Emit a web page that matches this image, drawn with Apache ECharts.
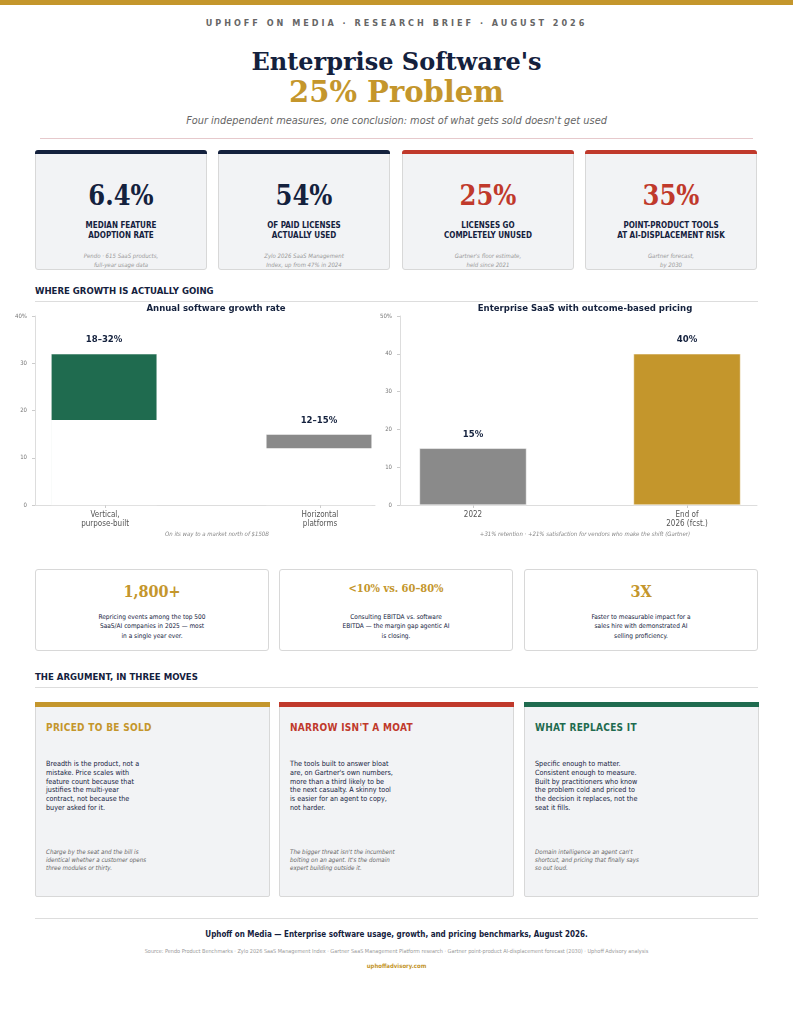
<!DOCTYPE html>
<html><head><meta charset="utf-8">
<script src="https://cdn.jsdelivr.net/npm/echarts@6/dist/echarts.min.js"></script>
<style>
body{margin:0;width:793px;height:1024px;background:#fff;font-family:"DejaVu Sans Condensed","DejaVu Sans",sans-serif;color:#14213d;position:relative;overflow:hidden}
.abs{position:absolute}
.c{text-align:center}
.topbar{left:0;top:0;width:793px;height:5px;background:#c4962c}
.kick{top:18px;left:0;width:793px;font-size:9px;font-weight:bold;letter-spacing:3px;color:#666}
.serif{font-family:"DejaVu Serif",serif;font-weight:bold}
.kpi{top:150px;width:172px;height:120px;background:#f2f3f5;border:1px solid #d8d8d8;border-radius:3px;box-sizing:border-box;text-align:center}
.kpi .bar{height:4px;margin:-1px -1px 0 -1px;border-radius:3px 3px 0 0}
.kpi .num{font-family:"DejaVu Serif Condensed","DejaVu Serif",serif;font-weight:bold;font-size:27px;margin-top:26px}
.kpi .lab{font-size:8px;font-weight:bold;margin-top:10px;line-height:10px}
.kpi .src{font-size:6px;font-style:italic;color:#999;margin-top:10px;line-height:9px}
.sec{left:35px;font-size:9.5px;font-weight:bold;color:#14213d}
.rule{left:35px;width:723px;height:1px;background:#ddd}
.stat{top:569px;width:234px;height:82px;border:1px solid #d8d8d8;border-radius:3px;box-sizing:border-box;text-align:center}
.stat .num{font-family:"DejaVu Serif Condensed","DejaVu Serif",serif;font-weight:bold;color:#c4962c;margin-top:12px;height:20px}
.stat .txt{font-size:6.5px;line-height:9.3px;margin-top:11px}
.arg{top:702px;width:235px;height:195px;background:#f2f3f5;border:1px solid #d8d8d8;border-radius:2px;box-sizing:border-box}
.arg .bar{height:5px;margin:-1px -1px 0 -1px}
.arg .h{font-size:10px;font-weight:bold;margin:15px 0 0 10px;letter-spacing:0.3px}
.arg .b{font-size:7.2px;line-height:8.8px;margin:27px 0 0 10px;width:103px;color:#14213d}
.arg .q{position:absolute;top:145px;left:10px;font-size:6.2px;font-style:italic;line-height:8px;color:#666;width:106px}
</style></head><body>
<div class="abs topbar"></div>
<div class="abs kick c">UPHOFF ON MEDIA · RESEARCH BRIEF · AUGUST 2026</div>
<div class="abs c serif" style="top:47px;left:0;width:793px;font-size:24px;color:#14213d">Enterprise Software's</div>
<div class="abs c serif" style="top:75px;left:0;width:793px;font-size:29px;color:#c4962c">25% Problem</div>
<div class="abs c" style="top:115px;left:0;width:793px;font-size:9.8px;font-style:italic;color:#666;font-family:'DejaVu Sans',sans-serif">Four independent measures, one conclusion: most of what gets sold doesn't get used</div>
<div class="abs" style="top:138px;left:40px;width:713px;height:1px;background:#e6c9cc"></div>

<div id="kpis"></div>

<div class="abs sec" style="top:285px">WHERE GROWTH IS ACTUALLY GOING</div>
<div class="abs rule" style="top:301px"></div>
<div id="chart" class="abs" style="left:0;top:296px;width:793px;height:250px"></div>

<div id="stats"></div>

<div class="abs sec" style="top:671px">THE ARGUMENT, IN THREE MOVES</div>
<div class="abs rule" style="top:687px"></div>
<div id="args"></div>

<div class="abs rule" style="top:918px"></div>
<div class="abs c" style="top:930px;left:0;width:793px;font-size:8px;font-weight:bold">Uphoff on Media — Enterprise software usage, growth, and pricing benchmarks, August 2026.</div>
<div class="abs c" style="top:948px;left:0;width:793px;font-size:5.5px;color:#999">Source: Pendo Product Benchmarks · Zylo 2026 SaaS Management Index · Gartner SaaS Management Platform research · Gartner point-product AI-displacement forecast (2030) · Uphoff Advisory analysis</div>
<div class="abs c" style="top:962px;left:0;width:793px;font-size:6px;font-weight:bold;color:#c4962c">uphoffadvisory.com</div>

<script>
var kpiNums = ['6.4%', '54%', '25%', '35%'];
var kpiLabels = ['MEDIAN FEATURE<br>ADOPTION RATE', 'OF PAID LICENSES<br>ACTUALLY USED', 'LICENSES GO<br>COMPLETELY UNUSED', 'POINT-PRODUCT TOOLS<br>AT AI-DISPLACEMENT RISK'];
var kpiSources = ['Pendo · 615 SaaS products,<br>full-year usage data', 'Zylo 2026 SaaS Management<br>Index, up from 47% in 2024', "Gartner's floor estimate,<br>held since 2021", 'Gartner forecast,<br>by 2030'];
var kpiColors = ['#14213d', '#14213d', '#c0392b', '#c0392b'];
var kpiX = [35, 218, 402, 585];

var growthCats = ['Vertical,\npurpose-built', 'Horizontal\nplatforms'];
var growthLow = [18, 12];
var growthHigh = [32, 15];
var growthLabels = ['18–32%', '12–15%'];
var pricingCats = ['2022', 'End of\n2026 (fcst.)'];
var pricingVals = [15, 40];

var statNums = ['1,800+', '<10% vs. 60–80%', '3X'];
var statSizes = [16, 11, 16];
var statTexts = ['Repricing events among the top 500<br>SaaS/AI companies in 2025 — most<br>in a single year ever.',
  'Consulting EBITDA vs. software<br>EBITDA — the margin gap agentic AI<br>is closing.',
  'Faster to measurable impact for a<br>sales hire with demonstrated AI<br>selling proficiency.'];
var statX = [35, 279, 524];

var argHeads = ['PRICED TO BE SOLD', "NARROW ISN'T A MOAT", 'WHAT REPLACES IT'];
var argColors = ['#c4962c', '#c0392b', '#1f6b4f'];
var argBodies = ['Breadth is the product, not a mistake. Price scales with feature count because that justifies the multi-year contract, not because the buyer asked for it.',
  "The tools built to answer bloat are, on Gartner's own numbers, more than a third likely to be the next casualty. A skinny tool is easier for an agent to copy, not harder.",
  'Specific enough to matter. Consistent enough to measure. Built by practitioners who know the problem cold and priced to the decision it replaces, not the seat it fills.'];
var argQuotes = ['Charge by the seat and the bill is identical whether a customer opens three modules or thirty.',
  "The bigger threat isn't the incumbent bolting on an agent. It's the domain expert building outside it.",
  "Domain intelligence an agent can't shortcut, and pricing that finally says so out loud."];
var argX = [35, 279, 524];

var html = '';
for (var i = 0; i < kpiNums.length; i++) {
  html += '<div class="abs kpi" style="left:' + kpiX[i] + 'px"><div class="bar" style="background:' + kpiColors[i] + '"></div>' +
    '<div class="num" style="color:' + kpiColors[i] + '">' + kpiNums[i] + '</div><div class="lab">' + kpiLabels[i] + '</div>' +
    '<div class="src">' + kpiSources[i] + '</div></div>';
}
document.getElementById('kpis').innerHTML = html;

html = '';
for (var i = 0; i < statNums.length; i++) {
  html += '<div class="abs stat" style="left:' + statX[i] + 'px"><div class="num" style="font-size:' + statSizes[i] + 'px">' +
    statNums[i].replace('<', '&lt;') + '</div><div class="txt">' + statTexts[i] + '</div></div>';
}
document.getElementById('stats').innerHTML = html;

html = '';
for (var i = 0; i < argHeads.length; i++) {
  html += '<div class="abs arg" style="left:' + argX[i] + 'px"><div class="bar" style="background:' + argColors[i] + '"></div>' +
    '<div class="h" style="color:' + argColors[i] + '">' + argHeads[i] + '</div><div class="b">' + argBodies[i] + '</div>' +
    '<div class="q">' + argQuotes[i] + '</div></div>';
}
document.getElementById('args').innerHTML = html;

var chart = echarts.init(document.getElementById('chart'));
var font = 'DejaVu Sans Condensed';
var tickStyle = { show: true, lineStyle: { color: '#ccc' }, length: 3 };

// x positions are category indices on a value axis so the bars sit where the reference puts them
function xAxisFor(gi, cats, min, max) {
  return {
    gridIndex: gi, type: 'value', min: min, max: max,
    splitLine: { show: false }, axisLine: { show: true, onZero: false, lineStyle: { color: '#ddd' } },
    axisTick: { show: true, customValues: [0, 1], lineStyle: { color: '#ccc' }, length: 3 },
    axisLabel: { customValues: [0, 1], color: '#555', fontSize: 8, fontFamily: font, lineHeight: 9, margin: 5,
      formatter: function (v) { return cats[Math.round(v)]; } }
  };
}
function yAxisFor(gi, max) {
  return {
    gridIndex: gi, type: 'value', min: 0, max: max, interval: 10,
    splitLine: { show: false }, axisLine: { show: true, onZero: false, lineStyle: { color: '#ddd' } }, axisTick: tickStyle,
    axisLabel: { color: '#777', fontSize: 6, fontFamily: font, formatter: function (v) { return v === max ? v + '%' : v; } }
  };
}
var labelStyle = { show: true, position: 'top', distance: 9, fontSize: 9.5, fontWeight: 'bold', color: '#14213d', fontFamily: font };

chart.setOption({
  animation: false,
  textStyle: { fontFamily: font },
  title: [
    { text: 'Annual software growth rate', left: 211, top: 3, textAlign: 'center', textStyle: { fontSize: 9.5, color: '#14213d', fontFamily: font } },
    { text: 'Enterprise SaaS with outcome-based pricing', left: 580, top: 3, textAlign: 'center', textStyle: { fontSize: 9.5, color: '#14213d', fontFamily: font } },
    { text: 'On its way to a market north of $150B', left: 212, top: 230, textAlign: 'center', textStyle: { fontSize: 6, fontStyle: 'italic', fontWeight: 'normal', color: '#888', fontFamily: font } },
    { text: '+31% retention · +21% satisfaction for vendors who make the shift (Gartner)', left: 580, top: 230, textAlign: 'center', textStyle: { fontSize: 6, fontStyle: 'italic', fontWeight: 'normal', color: '#888', fontFamily: font } }
  ],
  grid: [
    { left: 35, width: 340, top: 20, height: 189 },
    { left: 400, width: 357, top: 20, height: 189 }
  ],
  xAxis: [xAxisFor(0, growthCats, -0.326, 1.256), xAxisFor(1, pricingCats, -0.341, 1.327)],
  yAxis: [yAxisFor(0, 40), yAxisFor(1, 50)],
  series: [
    // range bar: full-height bar, then the part below the low end painted over in page white
    { type: 'bar', xAxisIndex: 0, yAxisIndex: 0, barWidth: 106, barGap: '-100%', z: 2,
      data: growthHigh.map(function (h, i) {
        return { value: [i, h], itemStyle: { color: i === 0 ? '#1f6b4f' : '#8a8a8a', borderColor: '#fff', borderWidth: 0.5 } };
      }),
      label: Object.assign({ formatter: function (p) { return growthLabels[p.dataIndex]; } }, labelStyle) },
    { type: 'bar', xAxisIndex: 0, yAxisIndex: 0, barWidth: 108, barGap: '-100%', z: 3, silent: true,
      itemStyle: { color: '#fff' },
      data: growthLow.map(function (v, i) { return [i, v]; }) },
    { type: 'bar', xAxisIndex: 1, yAxisIndex: 1, barWidth: 107,
      data: pricingVals.map(function (v, i) {
        return { value: [i, v], itemStyle: { color: i === 0 ? '#8a8a8a' : '#c4962c', borderColor: '#fff', borderWidth: 0.5 } };
      }),
      label: Object.assign({ formatter: function (p) { return pricingVals[p.dataIndex] + '%'; } }, labelStyle) }
  ]
});
</script>
</body></html>
